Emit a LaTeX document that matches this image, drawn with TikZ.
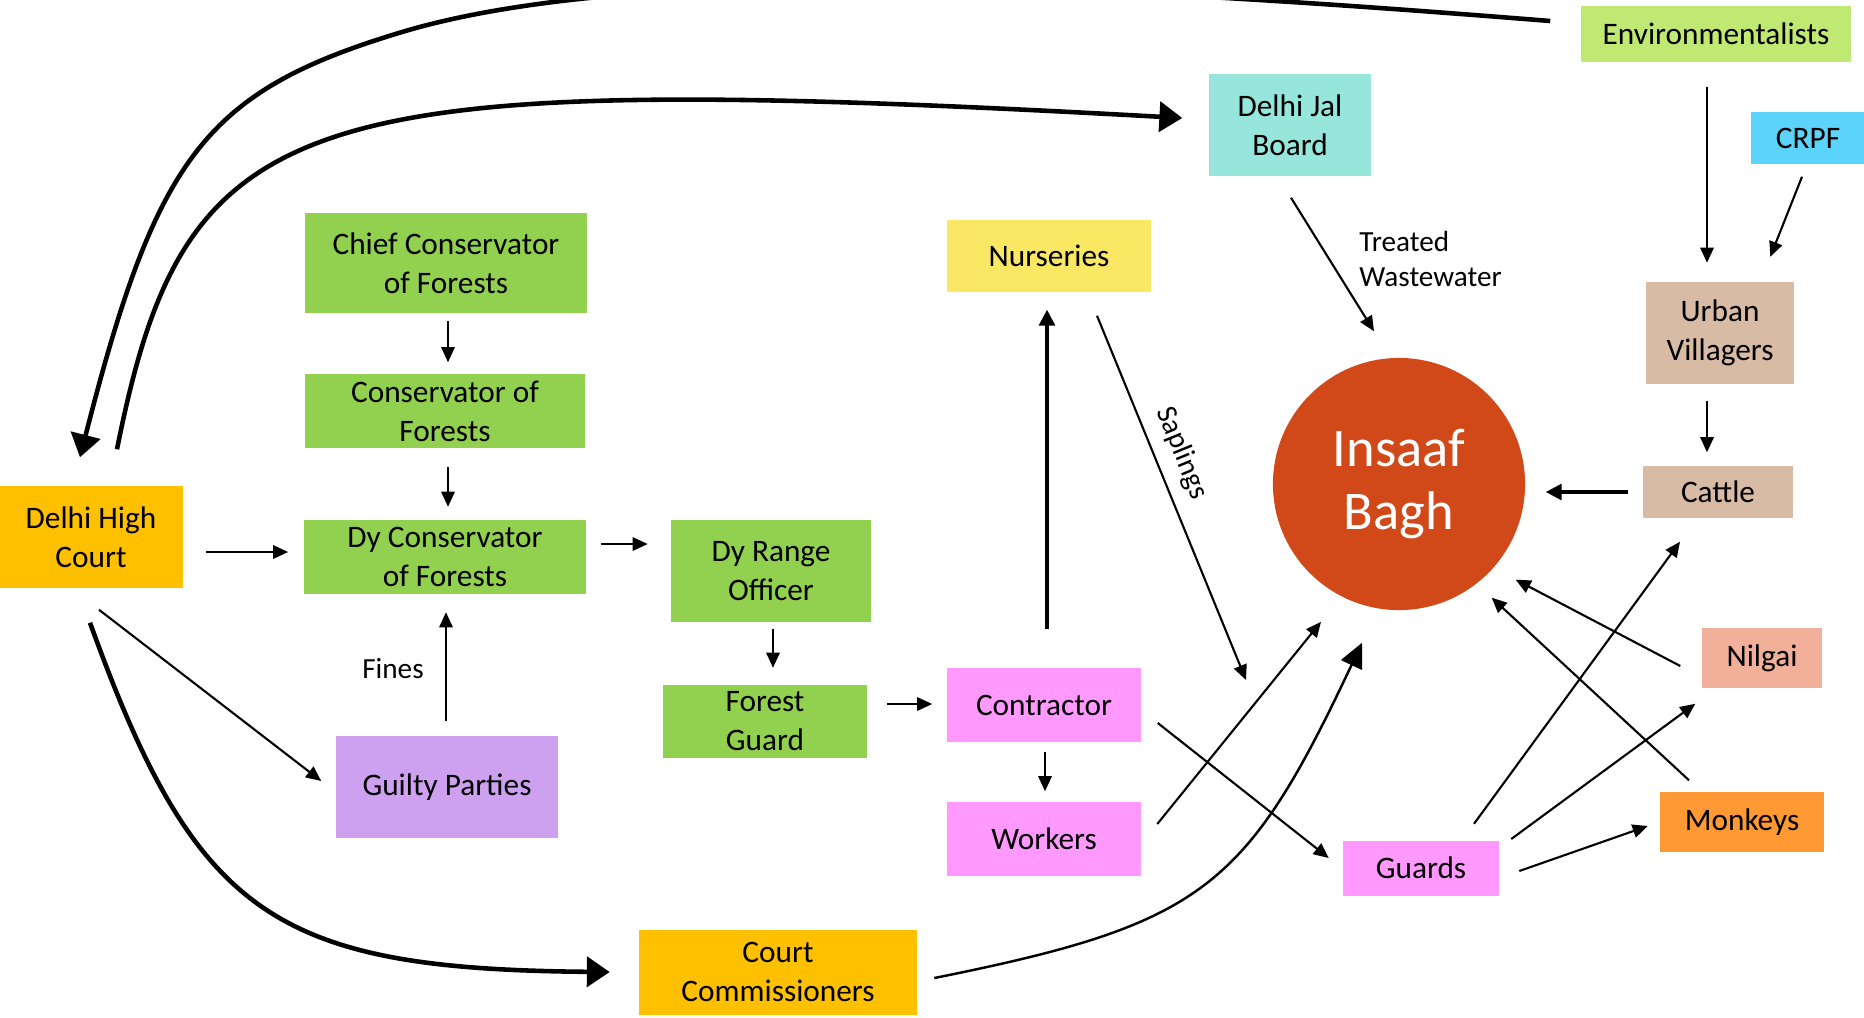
\documentclass[tikz,border=0pt]{standalone}
\usepackage{fontspec}
\setmainfont{Carlito}
\usetikzlibrary{arrows.meta}
\definecolor{forest}{RGB}{146,208,80}
\definecolor{court}{RGB}{255,192,0}
\definecolor{envgreen}{RGB}{192,233,115}
\definecolor{jalblue}{RGB}{150,230,220}
\definecolor{crpfblue}{RGB}{91,211,250}
\definecolor{nursery}{RGB}{250,232,101}
\definecolor{guiltyviolet}{RGB}{206,160,240}
\definecolor{labour}{RGB}{255,153,255}
\definecolor{baghred}{RGB}{210,73,25}
\definecolor{village}{RGB}{215,187,165}
\definecolor{nilgaipink}{RGB}{242,176,154}
\definecolor{monkeyorange}{RGB}{254,153,51}

\begin{document}
\begin{tikzpicture}[x=0.01cm, y=-0.01cm,
	every node/.style={font=\fontsize{8.9}{11.1}\selectfont},
	box/.style={fill=#1, align=center, inner sep=0pt},
	lbl/.style={font=\fontsize{8.3}{9.8}\selectfont},
	arr/.style={-{Triangle[length=4.3pt,width=3.8pt]}, line width=0.6pt},
	midarr/.style={-{Triangle[length=4.5pt,width=4.5pt]}, line width=0.9pt},
	bigarr/.style={-{Triangle[length=6.5pt,width=8.5pt]}, line width=1.3pt}]
	\useasboundingbox (0,0) rectangle (1864,1017);
	% forest department
	\node[box=forest, minimum width=2.82cm, minimum height=0.99cm] (chief) at (446,263) {Chief Conservator\\of Forests};
	\node[box=forest, minimum width=2.79cm, minimum height=0.74cm] (cons) at (445,411) {Conservator of\\Forests};
	\node[box=forest, minimum width=2.82cm, minimum height=0.73cm] (dycons) at (445,557) {Dy Conservator\\of Forests};
	\node[box=forest, minimum width=1.99cm, minimum height=1.02cm] (dyro) at (771,571) {Dy Range\\Officer};
	\node[box=forest, minimum width=2.04cm, minimum height=0.73cm] (fguard) at (765,721) {Forest\\Guard};
	% courts
	\node[box=court, minimum width=1.83cm, minimum height=1.02cm] (dhc) at (91,537) {Delhi High\\Court};
	\node[box=court, minimum width=2.77cm, minimum height=0.85cm] (ccomm) at (778,972) {Court\\Commissioners};
	\node[box=guiltyviolet, minimum width=2.22cm, minimum height=1.02cm] (guilty) at (447,787) {Guilty Parties};
	% others
	\node[box=envgreen, minimum width=2.70cm, minimum height=0.56cm] (env) at (1716,34) {Environmentalists};
	\node[box=jalblue, minimum width=1.62cm, minimum height=1.02cm] (jal) at (1290,125) {Delhi Jal\\Board};
	\node[box=crpfblue, minimum width=1.13cm, minimum height=0.52cm] (crpf) at (1808,138) {CRPF};
	\node[box=nursery, minimum width=2.04cm, minimum height=0.72cm] (nurs) at (1049,256) {Nurseries};
	\node[box=labour, minimum width=1.94cm, minimum height=0.74cm] (contr) at (1044,705) {Contractor};
	\node[box=labour, minimum width=1.93cm, minimum height=0.74cm] (work) at (1044,839) {Workers};
	\node[box=labour, minimum width=1.55cm, minimum height=0.55cm] (guards) at (1421,868) {Guards};
	\node[box=village, minimum width=1.47cm, minimum height=1.01cm] (urban) at (1720,333) {Urban\\Villagers};
	\node[box=village, minimum width=1.50cm, minimum height=0.52cm] (cattle) at (1718,492) {Cattle};
	\node[box=nilgaipink, minimum width=1.20cm, minimum height=0.60cm] (nilgai) at (1762,658) {Nilgai};
	\node[box=monkeyorange, minimum width=1.63cm, minimum height=0.60cm] (monkeys) at (1742,822) {Monkeys};
	\node[circle, fill=baghred, minimum size=2.52cm, inner sep=0pt, text=white, align=center,
		font=\fontsize{15.5}{18}\selectfont] (bagh) at (1399,484) {Insaaf\\Bagh};
	% labels
	\node[lbl, anchor=west, align=left] (treated) at (1347,259) {Treated\\Wastewater};
	\node[lbl] (fines) at (393,669) {Fines};
	\node[lbl, rotate=-67.8] (saplings) at (1182,453) {Saplings};
	\coordinate (sapend) at (1246,680);
	% big curves
	\draw[bigarr] ([shift={(-30,-13)}]env.west) .. controls (1151,-11) and (652,-43) .. (402,32)
		.. controls (206,91) and (157,155) .. ([shift={(-11,-28)}]dhc.north);
	\draw[bigarr] ([shift={(26,-36)}]dhc.north) .. controls (186,103) and (293,69) .. ([shift={(-26,-7)}]jal.west);
	\draw[bigarr] ([shift={(-1,34)}]dhc.south) .. controls (196,916) and (274,969) .. ([shift={(-29,0)}]ccomm.west);
	\draw[line width=0.7pt, -{Triangle[length=7pt,width=6.5pt]}] ([shift={(17,6)}]ccomm.east) .. controls (1203,924) and (1246,889) .. ([shift={(-37,32)}]bagh.south);
	% straight arrows
	\draw[arr] ([shift={(2,8)}]chief.south) -- ([shift={(3,-11)}]cons.north);
	\draw[arr] ([shift={(3,18)}]cons.south) -- ([shift={(3,-13)}]dycons.north);
	\draw[arr] ([shift={(23,15)}]dhc.east) -- ([shift={(-15,-5)}]dycons.west);
	\draw[arr] ([shift={(14,-13)}]dycons.east) -- ([shift={(-23,-27)}]dyro.west);
	\draw[arr] ([shift={(2,6)}]dyro.south) -- ([shift={(8,-16)}]fguard.north);
	\draw[arr] ([shift={(19,-17)}]fguard.east) -- ([shift={(-14,-1)}]contr.west);
	\draw[arr] ([shift={(1,9)}]contr.south) -- ([shift={(1,-10)}]work.north);
	\draw[midarr] ([shift={(3,-38)}]contr.north) -- ([shift={(-2,17)}]nurs.south);
	\draw[arr] ([shift={(48,23)}]nurs.south) -- (sapend);
	\draw[arr] ([shift={(-1,-14)}]guilty.north) -- ([shift={(1,18)}]dycons.south);
	\draw[arr] ([shift={(8,21)}]dhc.south) -- ([shift={(-14,-6)}]guilty.west);
	\draw[arr] ([shift={(1,21)}]jal.south) -- ([shift={(-25,-26)}]bagh.north);
	\draw[arr] ([shift={(-9,24)}]env.south) -- ([shift={(-13,-19)}]urban.north);
	\draw[arr] ([shift={(-6,12)}]crpf.south) -- ([shift={(-24,-25)}]urban.north east);
	\draw[arr] ([shift={(-13,17)}]urban.south) -- ([shift={(-11,-13)}]cattle.north);
	\draw[midarr] ([shift={(-14,0)}]cattle.west) -- ([shift={(20,8)}]bagh.east);
	\draw[arr] ([shift={(16,-15)}]work.east) -- ([shift={(-78,11)}]bagh.south);
	\draw[arr] ([shift={(16,18)}]contr.east) -- ([shift={(-14,-10)}]guards.west);
	\draw[arr] ([shift={(53,-16)}]guards.north) -- ([shift={(-38,23)}]cattle.south);
	\draw[arr] ([shift={(12,-29)}]guards.east) -- ([shift={(-6,15)}]nilgai.south west);
	\draw[arr] ([shift={(20,3)}]guards.east) -- ([shift={(-12,4)}]monkeys.west);
	\draw[arr] ([shift={(-21,8)}]nilgai.west) -- ([shift={(27,6)}]bagh.south east);
	\draw[arr] ([shift={(-53,-11)}]monkeys.north) -- ([shift={(3,24)}]bagh.south east);
\end{tikzpicture}
\end{document}
